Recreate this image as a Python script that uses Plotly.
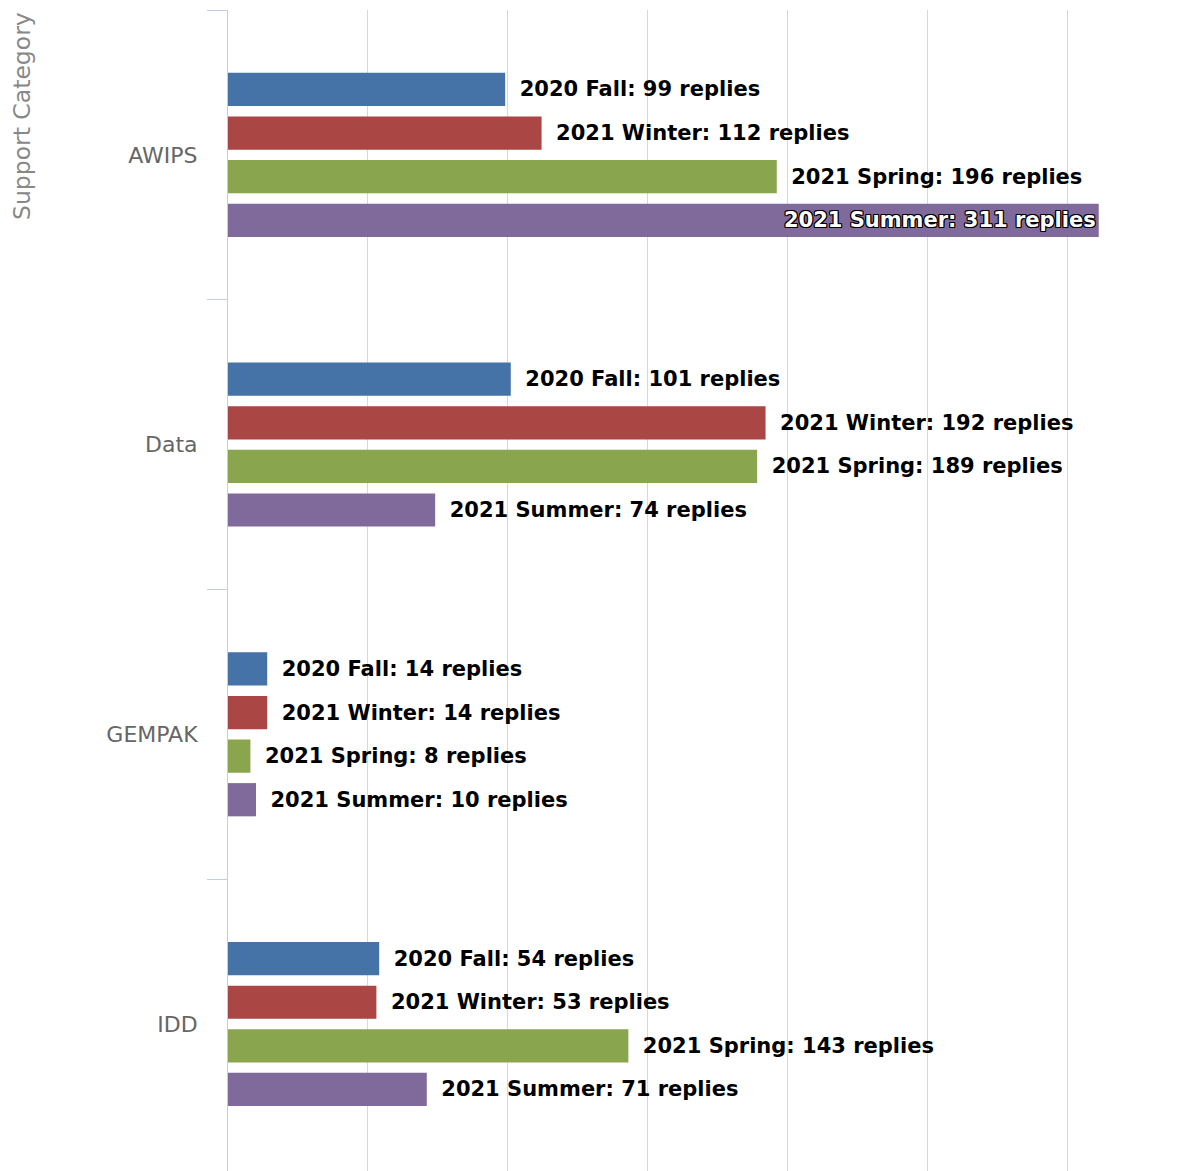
import plotly.graph_objects as go

categories = ["AWIPS", "Data", "GEMPAK", "IDD"]
series_names = ["2020 Fall", "2021 Winter", "2021 Spring", "2021 Summer"]
fall_2020 = [99, 101, 14, 54]
winter_2021 = [112, 192, 14, 53]
spring_2021 = [196, 189, 8, 143]
summer_2021 = [311, 74, 10, 71]
colors = ["#4572A7", "#AA4643", "#89A54E", "#80699B"]

series_values = [fall_2020, winter_2021, spring_2021, summer_2021]

X_MAX = 343.6
INSIDE_LIMIT = 280  # labels that would overflow plot go inside the bar

fig = go.Figure()
for name, vals, col in zip(series_names, series_values, colors):
    positions = ["inside" if v > INSIDE_LIMIT else "outside" for v in vals]
    texts = [
        (f"{name}: {v} replies" if v > INSIDE_LIMIT else f"\u00a0\u2009{name}: {v} replies")
        for v in vals
    ]
    fig.add_trace(go.Bar(
        name=name,
        y=categories,
        x=vals,
        orientation="h",
        marker=dict(color=col, line=dict(width=0)),
        text=texts,
        textposition=positions,
        insidetextanchor="end",
        outsidetextfont=dict(family="DejaVu Sans", size=21, color="#000000", weight="bold"),
        insidetextfont=dict(family="DejaVu Sans", size=21, color="#FFFFFF", weight="bold",
                            shadow="1px 1px 0 #000, -1px -1px 0 #000, 1px -1px 0 #000, -1px 1px 0 #000, 0 1px 0 #000, 0 -1px 0 #000, 1px 0 0 #000, -1px 0 0 #000"),
        textangle=0,
        constraintext="none",
        cliponaxis=False,
        hoverinfo="skip",
    ))

fig.update_layout(
    width=1196,
    height=1171,
    margin=dict(l=220, r=14, t=2, b=0),
    paper_bgcolor="white",
    plot_bgcolor="white",
    barmode="group",
    bargap=0.398,
    bargroupgap=0.238,
    showlegend=False,
    xaxis=dict(
        range=[0, X_MAX],
        dtick=50,
        tick0=0,
        showgrid=True,
        gridcolor="#D8D8D8",
        gridwidth=1,
        showticklabels=False,
        zeroline=False,
        showline=False,
        ticks="",
    ),
    yaxis=dict(
        type="category",
        categoryorder="array",
        categoryarray=categories,
        range=[3.5 + 10 / 287.7, -0.5],
        showline=True,
        linecolor="#C0D0E0",
        linewidth=1,
        ticks="outside",
        tickson="boundaries",
        ticklen=20,
        tickcolor="#C0D0E0",
        tickwidth=1,
        ticklabelstandoff=25,
        tickfont=dict(family="DejaVu Sans", size=22, color="#666666"),
        showgrid=False,
        zeroline=False,
    ),
    annotations=[dict(
        text="Support Category",
        xref="paper", yref="paper",
        x=-220 / 962 + 14 / 962, y=1.0,
        xanchor="center", yanchor="top",
        textangle=-90,
        showarrow=False,
        font=dict(family="DejaVu Sans", size=23.5, color="#888888"),
    )],
)

fig.write_html("out.html")
